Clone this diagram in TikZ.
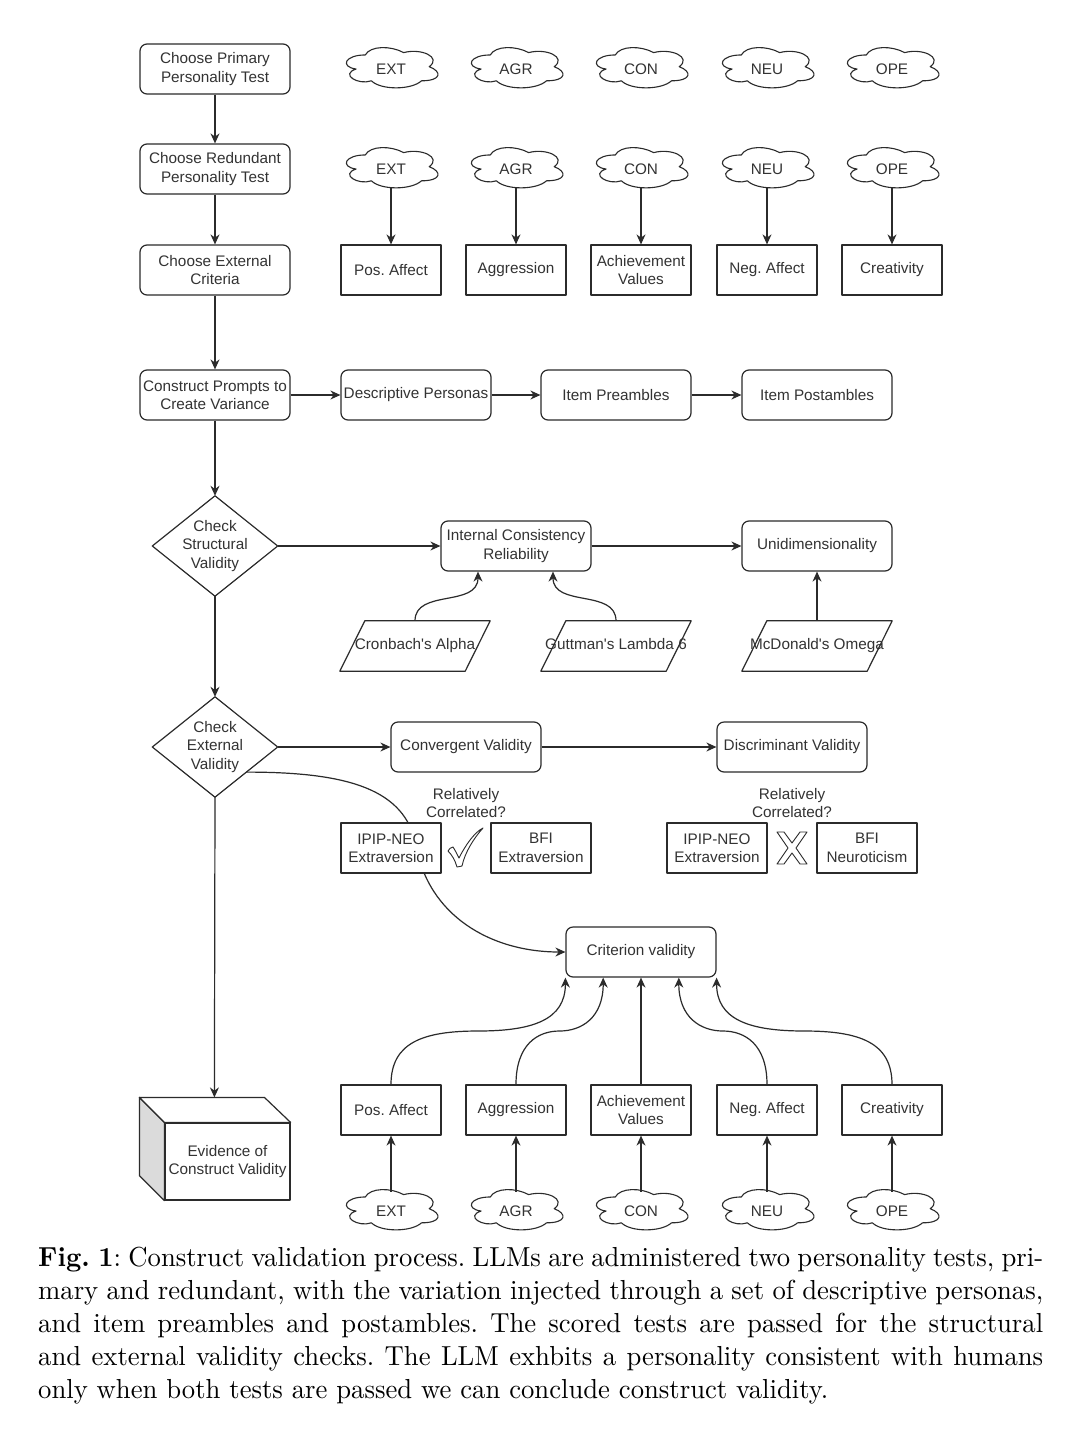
\documentclass[tikz,border=0pt]{standalone}
\usepackage{fontspec}
\newfontfamily\diagfont{Liberation Sans}
\newfontfamily\capfont{lmroman10-regular.otf}[BoldFont=lmroman10-bold.otf, FakeStretch=0.97]
\usetikzlibrary{shapes.geometric,arrows.meta,calc,backgrounds}
\definecolor{lncol}{HTML}{2B2B2B}
\definecolor{txcol}{HTML}{333333}
\newcommand\cloudout[1]{\draw[draw=lncol, line width=1.1pt, line join=round, shift={($(#1.north west)+(-6.1,-6.6)$)}, x=1.023pt, y=-0.47pt]
  (25,25) .. controls (5,25) and (0,50) .. (16,55) .. controls (0,66) and (18,90) .. (31,80)
  .. controls (40,100) and (70,100) .. (80,80) .. controls (100,80) and (100,60) .. (87.5,50)
  .. controls (100,30) and (80,10) .. (62.5,20) .. controls (50,5) and (30,5) .. (25,25) -- cycle;}
\begin{document}
\begin{tikzpicture}[x=1pt,y=-1pt,
  every node/.style={font=\diagfont\fontsize{15.3}{18.5}\selectfont\frenchspacing, text=txcol},
  plain/.style={draw=lncol, line width=1.2pt, line join=round},
  base/.style={plain, fill=white, align=center, inner sep=1pt, minimum height=50pt},
  rbox/.style={base, rounded corners=7pt, minimum width=150pt},
  sbox/.style={base, minimum width=100pt},
  cloudn/.style={align=center, inner sep=0pt, minimum width=90pt, minimum height=38pt},
  free/.style={align=center, inner sep=0pt, minimum width=150pt, minimum height=50pt},
  para/.style={free, text height=11pt, text depth=3.5pt},
  arr/.style={plain, -{Stealth[length=10pt,width=9pt]}},
]
\begin{pgfonlayer}{background}
\fill[white] (0,0) rectangle (1080,1432);
\end{pgfonlayer}
\useasboundingbox (0,0) rectangle (1080,1432);

% left column
\node[rbox] (primary) at (215,69) {Choose Primary\\Personality Test};
\node[rbox] (redund) at (215,169) {Choose Redundant\\Personality Test};
\node[rbox] (extcrit) at (215,270) {Choose External\\Criteria};
\node[rbox] (prompts) at (215,395) {Construct Prompts to\\Create Variance};
\node[free, minimum width=125pt, minimum height=100pt] (struct) at (215,546) {Check\\Structural\\Validity};
\draw[plain] (struct.north) -- (struct.east) -- (struct.south) -- (struct.west) -- cycle;
\node[free, minimum width=125pt, minimum height=100pt] (extval) at (215,747) {Check\\External\\Validity};
\draw[plain] (extval.north) -- (extval.east) -- (extval.south) -- (extval.west) -- cycle;

% cube
\node[base, minimum width=125pt, minimum height=77pt] (evid) at (227.5,1161.5) {Evidence of\\Construct Validity};
\draw[plain, fill=black!14] (evid.north west) -- ++(-25,-25) -- ($(evid.south west)+(-25,-25)$) -- (evid.south west) -- cycle;
\draw[plain, fill=white] (evid.north west) -- ++(-25,-25) -- ++(125,0) -- (evid.north east) -- cycle;
\coordinate (cubetop) at ($(evid.north west)+(50,-25)$);

\draw[arr] (primary) -- (redund);
\draw[arr] (redund) -- (extcrit);
\draw[arr] (extcrit) -- (prompts);
\draw[arr] (prompts.south) -- (struct.north);
\draw[arr] (struct.south) -- (extval.north);
\draw[arr] (extval.south) -- (cubetop);

% clouds and criteria boxes
\foreach \x/\t/\i in {391/EXT/1,516/AGR/2,641/CON/3,767/NEU/4,892/OPE/5}{
  \node[cloudn] (ca\i) at (\x,69) {\t};
  \cloudout{ca\i}
  \node[cloudn] (cb\i) at (\x,169) {\t};
  \cloudout{cb\i}
  \node[cloudn] (cc\i) at (\x,1211) {\t};
  \cloudout{cc\i}
}
\foreach \x/\t/\i in {391/{Pos. Affect}/1, 516/Aggression/2, 641/{Achievement\\Values}/3, 767/{Neg. Affect}/4, 892/Creativity/5}{
  \node[sbox] (ba\i) at (\x,270) {\t};
  \node[sbox] (bb\i) at (\x,1110) {\t};
  \draw[arr] (cb\i.south) -- (ba\i.north);
  \draw[arr] (cc\i.north) -- (bb\i.south);
}

% prompts row
\node[rbox] (desc) at (416,395) {Descriptive Personas};
\node[rbox] (pre) at (616,395) {Item Preambles};
\node[rbox] (post) at (817,395) {Item Postambles};
\draw[arr] (prompts) -- (desc);
\draw[arr] (desc) -- (pre);
\draw[arr] (pre) -- (post);

% structural validity
\node[rbox] (icr) at (516,546) {Internal Consistency\\Reliability};
\node[rbox] (unid) at (817,546) {Unidimensionality};
\draw[arr] (struct.east) -- (icr.west);
\draw[arr] (icr) -- (unid);
\foreach \x/\t/\i in {415/{Cronbach's Alpha}/1, 616/{Guttman's Lambda 6}/2, 817/{McDonald's Omega}/3}{
  \node[para] (pa\i) at (\x,646) {\t};
  \draw[plain] ($(pa\i.north west)+(25,0)$) -- (pa\i.north east) -- ($(pa\i.south east)+(-25,0)$) -- (pa\i.south west) -- cycle;
}
\draw[arr] (pa1.north) .. controls +(0,-32) and +(0,36) .. ($(icr.south)+(-38,0)$);
\draw[arr] (pa2.north) .. controls +(0,-32) and +(0,36) .. ($(icr.south)+(37,0)$);
\draw[arr] (pa3.north) -- (unid.south);

% external validity
\node[rbox] (conv) at (466,747) {Convergent Validity};
\node[rbox] (disc) at (792,747) {Discriminant Validity};
\draw[arr] (extval.east) -- (conv.west);
\draw[arr] (conv) -- (disc);
\node[align=center, inner sep=0pt] (rc1) at (466,803) {Relatively\\Correlated?};
\node[align=center, inner sep=0pt] (rc2) at (792,803) {Relatively\\Correlated?};
\node[sbox] (ipip1) at (391,848) {IPIP-NEO\\Extraversion};
\node[sbox] (bfi1) at (541,848) {BFI\\Extraversion};
\node[sbox] (ipip2) at (717,848) {IPIP-NEO\\Extraversion};
\node[sbox] (bfi2) at (867,848) {BFI\\Neuroticism};

% check mark
\coordinate (chk) at ($(ipip1.east)!0.5!(bfi1.west)$);
\draw[draw=lncol, line width=0.9pt, line join=round, shift={(chk)}]
  (-18,3) .. controls (-16,0) .. (-13,-1) .. controls (-11,2) and (-9,6) .. (-7,10)
  .. controls (0,-4) and (9,-16) .. (17,-20)
  .. controls (8,-10) and (-1,4) .. (-4,18) -- (-9,19)
  .. controls (-11,12) and (-14,7) .. (-18,3) -- cycle;
% X mark
\coordinate (xmk) at ($(ipip2.east)!0.5!(bfi2.west)$);
\draw[draw=lncol, line width=0.9pt, line join=round, shift={(xmk)}]
  (-15,-16) -- (-8,-16) -- (0,-5) -- (8,-16) -- (15,-16) -- (4,0) -- (15,16) -- (8,16)
  -- (0,5) -- (-8,16) -- (-15,16) -- (-4,0) -- cycle;

% criterion validity
\node[rbox] (crit) at (641,952) {Criterion validity};
\coordinate (exvse) at ($(extval.east)!0.5!(extval.south)$);
\begin{pgfonlayer}{background}
\draw[arr] (exvse) .. controls (350,772) and (405,790) .. (416,845)
  .. controls (428,915) and (490,952) .. (crit.west);
\end{pgfonlayer}
\coordinate (m1) at ($(bb1.north)!0.5!(crit.south west)$);
\coordinate (t2) at ($(crit.south west)!0.25!(crit.south east)$);
\coordinate (m2) at ($(bb2.north)!0.5!(t2)$);
\coordinate (t4) at ($(crit.south west)!0.75!(crit.south east)$);
\coordinate (m4) at ($(bb4.north)!0.5!(t4)$);
\coordinate (m5) at ($(bb5.north)!0.5!(crit.south east)$);
\draw[arr] (bb1.north) .. controls +(0,-42) and +(-55,0) .. (m1) .. controls +(55,0) and +(0,42) .. (crit.south west);
\draw[arr] (bb2.north) .. controls +(0,-40) and +(-22,0) .. (m2) .. controls +(22,0) and +(0,40) .. (t2);
\draw[arr] (bb3.north) -- (crit.south);
\draw[arr] (bb4.north) .. controls +(0,-40) and +(22,0) .. (m4) .. controls +(-22,0) and +(0,40) .. (t4);
\draw[arr] (bb5.north) .. controls +(0,-42) and +(55,0) .. (m5) .. controls +(-55,0) and +(0,42) .. (crit.south east);

% caption
\node[anchor=north west, inner sep=0pt, font=\capfont, text=black] (cap) at (38,1247) {\begin{minipage}{1005pt}\capfont\fontsize{27.5}{33}\selectfont\frenchspacing
\hbox to\linewidth{\textbf{Fig.\ 1}: Construct validation process. LLMs are administered two personality tests, pri-}
\hbox to\linewidth{mary and redundant, with the variation injected through a set of descriptive personas,}
\hbox to\linewidth{and item preambles and postambles. The scored tests are passed for the structural}
\hbox to\linewidth{and external validity checks. The LLM exhbits a personality consistent with humans}
\hbox{only when both tests are passed we can conclude construct validity.}
\end{minipage}};
\end{tikzpicture}
\end{document}
